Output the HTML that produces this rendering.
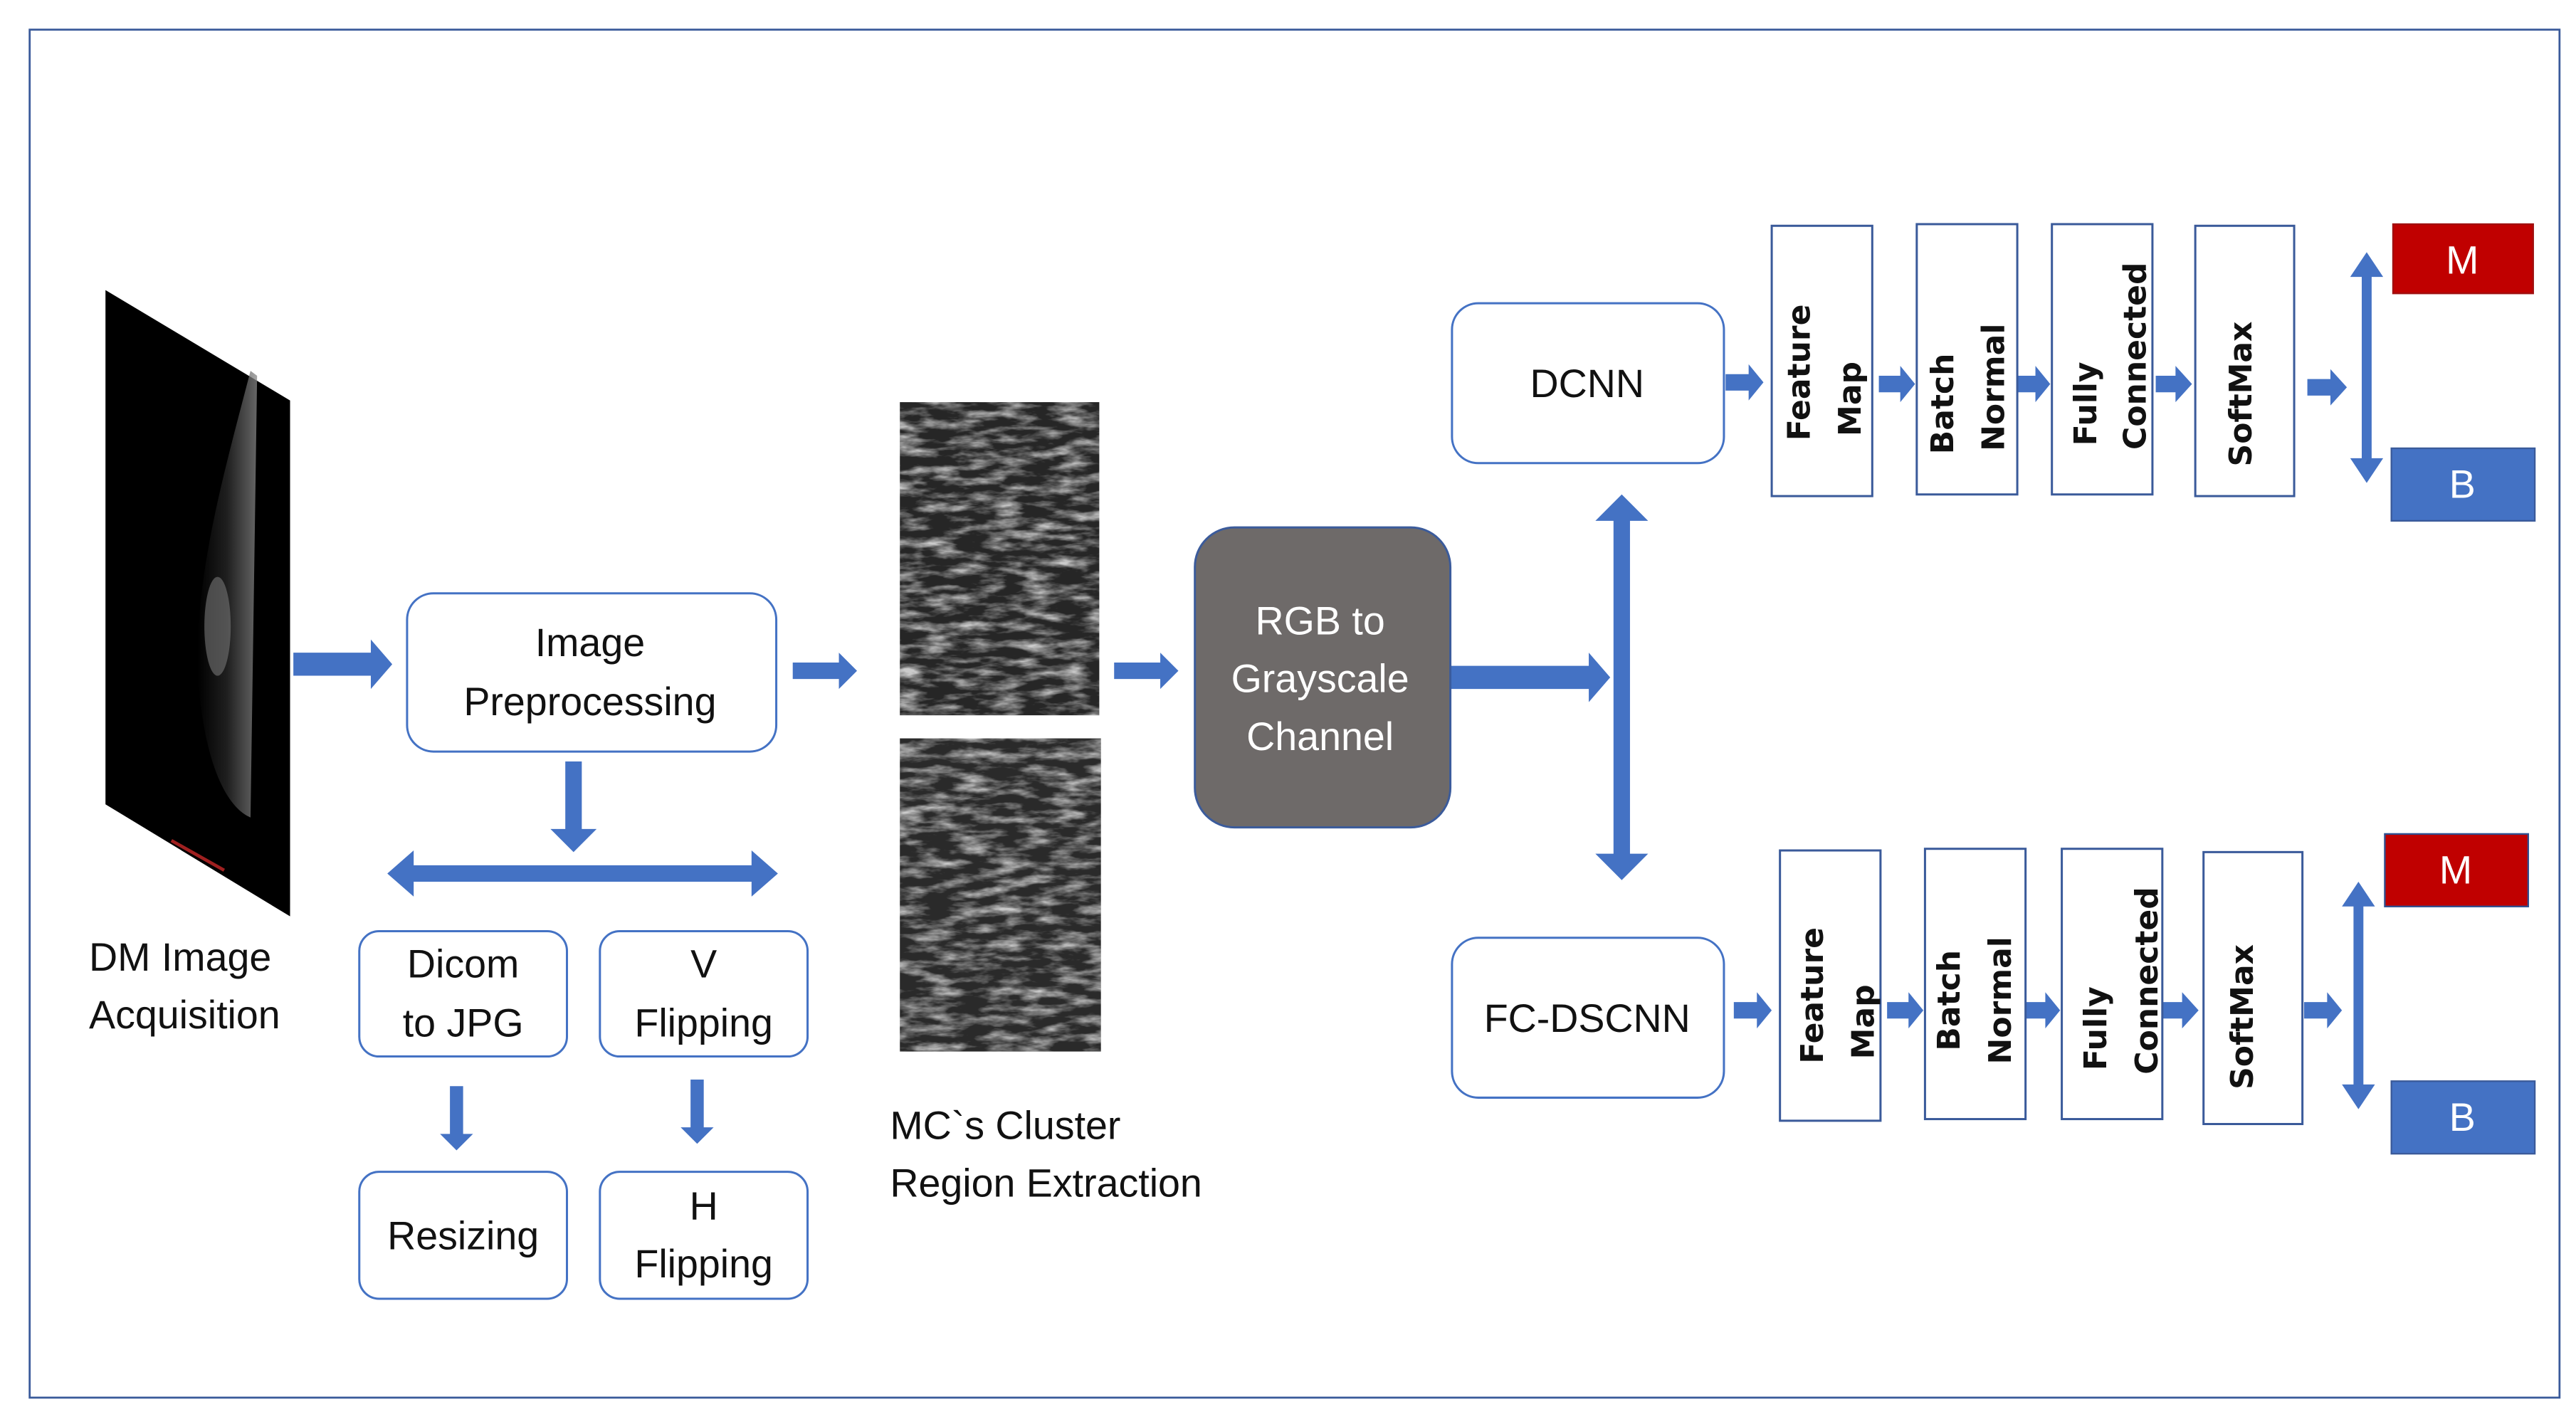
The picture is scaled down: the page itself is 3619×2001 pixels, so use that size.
<!DOCTYPE html>
<html><head><meta charset="utf-8"><style>
html,body{margin:0;padding:0;background:#fff;}
svg{display:block;}
.t{font-family:"Liberation Sans","DejaVu Sans",sans-serif;font-size:24px;fill:#111;}
.r{font-family:"DejaVu Sans",sans-serif;font-size:19px;fill:#111;font-weight:600;}
</style></head><body>
<svg width="3619" height="2001" viewBox="0 0 1563 864" preserveAspectRatio="none" xmlns="http://www.w3.org/2000/svg">
<defs>
<filter id="tex" x="0" y="0" width="100%" height="100%">
<feTurbulence type="fractalNoise" baseFrequency="0.05 0.18" numOctaves="4" seed="7"/>
<feColorMatrix type="matrix" values="0 0 0 0 0.6  0 0 0 0 0.6  0 0 0 0 0.6  0 0 0 2.2 -0.9"/>
</filter>
<linearGradient id="breast" x1="0" x2="1">
<stop offset="0" stop-color="#000"/><stop offset="0.5" stop-color="#2a2a2a"/><stop offset="1" stop-color="#888"/>
</linearGradient>
</defs>
<rect x="0" y="0" width="1563" height="864" fill="#fff"/>
<rect x="18" y="18" width="1535" height="830" fill="none" stroke="#3a5a9a" stroke-width="1.2"/>

<!-- mammogram -->
<polygon points="64,176 176,243 176,556 64,488" fill="#000"/>
<path d="M152,225 C135,290 118,350 120,410 C124,465 138,490 152,496 L156,228 Z" fill="url(#breast)" opacity="0.75"/>
<ellipse cx="132" cy="380" rx="8" ry="30" fill="#777" opacity="0.6"/>
<line x1="104" y1="510" x2="136" y2="528" stroke="#a02020" stroke-width="2"/>

<!-- arrows -->
<g fill="#4472c4">
<polygon points="178,396 225,396 225,388 238,403 225,418 225,410 178,410"/>
<polygon points="481,402 509,402 509,396 520,407 509,418 509,412 481,412"/>
<polygon points="676,402 704,402 704,396 715,407 704,418 704,412 676,412"/>
<polygon points="880,404 964,404 964,396 977,411 964,426 964,418 880,418"/>
<polygon points="979,316 968,316 984,300 1000,316 989,316 989,518 1000,518 984,534 968,518 979,518"/>
<polygon points="343,462 353,462 353,503 362,503 348,517 334,503 343,503"/>
<polygon points="251,525 251,516 235,530 251,544 251,535 456,535 456,544 472,530 456,516 456,525"/>
<polygon points="273,659 281,659 281,688 287,688 277,698 267,688 273,688"/>
<polygon points="419,655 427,655 427,684 433,684 423,694 413,684 419,684"/>
<polygon points="1047,227 1061,227 1061,221 1070,232 1061,243 1061,237 1047,237"/>
<polygon points="1140,228 1153,228 1153,222 1162,233 1153,244 1153,238 1140,238"/>
<polygon points="1222,228 1235,228 1235,222 1244,233 1235,244 1235,238 1222,238"/>
<polygon points="1308,228 1320,228 1320,222 1330,233 1320,244 1320,238 1308,238"/>
<polygon points="1400,230 1414,230 1414,224 1424,235 1414,246 1414,240 1400,240"/>
<polygon points="1433,168 1426,168 1436,153 1446,168 1439,168 1439,278 1446,278 1436,293 1426,278 1433,278"/>
<polygon points="1052,608 1066,608 1066,602 1075,613 1066,624 1066,618 1052,618"/>
<polygon points="1145,608 1158,608 1158,602 1167,613 1158,624 1158,618 1145,618"/>
<polygon points="1228,608 1241,608 1241,602 1250,613 1241,624 1241,618 1228,618"/>
<polygon points="1312,608 1324,608 1324,602 1334,613 1324,624 1324,618 1312,618"/>
<polygon points="1398,608 1412,608 1412,602 1421,613 1412,624 1412,618 1398,618"/>
<polygon points="1428,550 1421,550 1431,535 1441,550 1434,550 1434,658 1441,658 1431,673 1421,658 1428,658"/>
</g>

<g fill="#fff" stroke="#4472c4" stroke-width="1.3">
<rect x="247" y="360" width="224" height="96" rx="16"/>
<rect x="218" y="565" width="126" height="76" rx="12"/>
<rect x="364" y="565" width="126" height="76" rx="12"/>
<rect x="218" y="711" width="126" height="77" rx="12"/>
<rect x="364" y="711" width="126" height="77" rx="12"/>
<rect x="881" y="184" width="165" height="97" rx="16"/>
<rect x="881" y="569" width="165" height="97" rx="16"/>
</g>
<rect x="725" y="320" width="155" height="182" rx="24" fill="#6e6a69" stroke="#3b5b9b" stroke-width="1.3"/>

<rect x="546" y="244" width="121" height="190" fill="#262626"/>
<rect x="546" y="244" width="121" height="190" filter="url(#tex)"/>
<rect x="546" y="448" width="122" height="190" fill="#2a2a2a"/>
<rect x="546" y="448" width="122" height="190" filter="url(#tex)"/>

<g class="t" text-anchor="middle">
<text x="358" y="398">Image</text>
<text x="358" y="434">Preprocessing</text>
<text x="281" y="593">Dicom</text>
<text x="281" y="629">to JPG</text>
<text x="427" y="593">V</text>
<text x="427" y="629">Flipping</text>
<text x="281" y="758">Resizing</text>
<text x="427" y="740">H</text>
<text x="427" y="775">Flipping</text>
<text x="963" y="241">DCNN</text>
<text x="963" y="626">FC-DSCNN</text>
<text x="801" y="385" fill="#fff">RGB to</text>
<text x="801" y="420" fill="#fff">Grayscale</text>
<text x="801" y="455" fill="#fff">Channel</text>
</g>
<g class="t">
<text x="54" y="589">DM Image</text>
<text x="54" y="624">Acquisition</text>
<text x="540" y="691">MC`s Cluster</text>
<text x="540" y="726">Region Extraction</text>
</g>

<g fill="#fff" stroke="#3a5a9a" stroke-width="1.3">
<rect x="1075" y="137" width="61" height="164"/>
<rect x="1163" y="136" width="61" height="164"/>
<rect x="1245" y="136" width="61" height="164"/>
<rect x="1332" y="137" width="60" height="164"/>
<rect x="1080" y="516" width="61" height="164"/>
<rect x="1168" y="515" width="61" height="164"/>
<rect x="1251" y="515" width="61" height="164"/>
<rect x="1337" y="517" width="60" height="165"/>
</g>
<g class="r" text-anchor="middle">
<text transform="translate(1098,226) rotate(-90)">Feature</text>
<text transform="translate(1129,242) rotate(-90)">Map</text>
<text transform="translate(1185,245) rotate(-90)">Batch</text>
<text transform="translate(1216,235) rotate(-90)">Normal</text>
<text transform="translate(1272,245) rotate(-90)">Fully</text>
<text transform="translate(1302,216) rotate(-90)">Connected</text>
<text transform="translate(1366,239) rotate(-90)">SoftMax</text>
<text transform="translate(1106,604) rotate(-90)">Feature</text>
<text transform="translate(1137,620) rotate(-90)">Map</text>
<text transform="translate(1189,607) rotate(-90)">Batch</text>
<text transform="translate(1220,607) rotate(-90)">Normal</text>
<text transform="translate(1278,624) rotate(-90)">Fully</text>
<text transform="translate(1309,595) rotate(-90)">Connected</text>
<text transform="translate(1367,617) rotate(-90)">SoftMax</text>
</g>

<rect x="1452" y="136" width="85" height="42" fill="#c00000" stroke="#a01010"/>
<rect x="1451" y="272" width="87" height="44" fill="#4472c4" stroke="#3a5a9a"/>
<rect x="1447" y="506" width="87" height="44" fill="#c00000" stroke="#2f4f8f"/>
<rect x="1451" y="656" width="87" height="44" fill="#4472c4" stroke="#3a5a9a"/>
<g class="t" text-anchor="middle" style="fill:#fff">
<text x="1494" y="166">M</text>
<text x="1494" y="302">B</text>
<text x="1490" y="536">M</text>
<text x="1494" y="686">B</text>
</g>
</svg>
</body></html>
